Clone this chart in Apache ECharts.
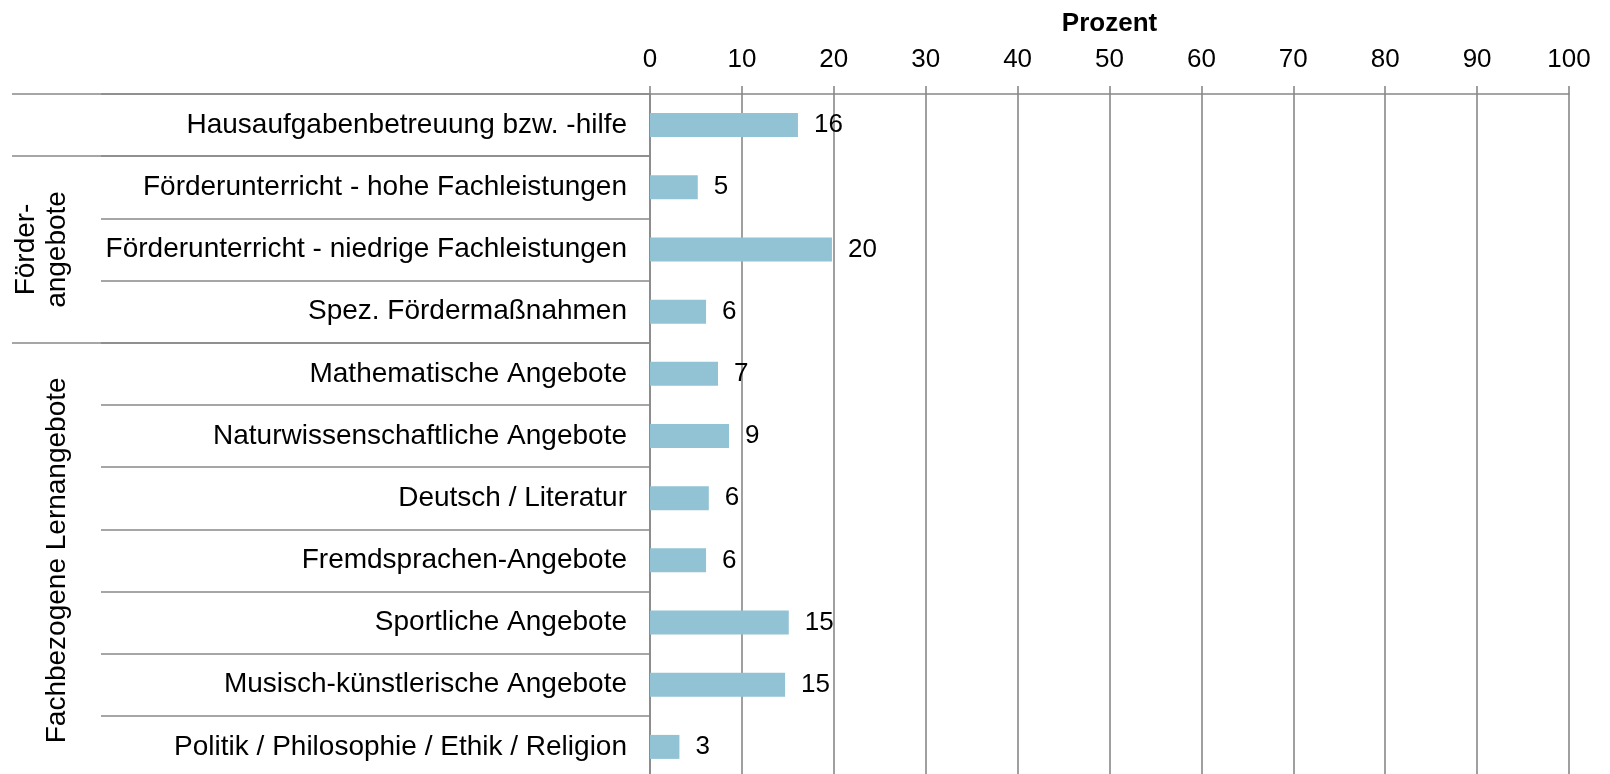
<!DOCTYPE html>
<html>
<head>
<meta charset="utf-8">
<script src="https://cdn.jsdelivr.net/npm/echarts@6/dist/echarts.min.js"></script>
<style>
html,body{margin:0;padding:0;background:#fff;}
#chart{width:1610px;height:774px;}
</style>
</head>
<body>
<div id="chart"></div>
<script>
// ---- data ----
const categories = [
  'Hausaufgabenbetreuung bzw. -hilfe',
  'Förderunterricht - hohe Fachleistungen',
  'Förderunterricht - niedrige Fachleistungen',
  'Spez. Fördermaßnahmen',
  'Mathematische Angebote',
  'Naturwissenschaftliche Angebote',
  'Deutsch / Literatur',
  'Fremdsprachen-Angebote',
  'Sportliche Angebote',
  'Musisch-künstlerische Angebote',
  'Politik / Philosophie / Ethik / Religion'
];
const values = [16.1, 5.2, 19.8, 6.1, 7.4, 8.6, 6.4, 6.1, 15.1, 14.7, 3.2];
const groupLabels = ['', 'Förder-\nangebote', 'Fachbezogene Lernangebote'];
const groupStart = [0, 1, 4];
const groupEnd = [0, 3, 10];
const axisName = 'Prozent';
const xMin = 0, xMax = 100, xStep = 10;

// ---- styles ----
const FONT = "'Liberation Sans', Arial, sans-serif";
const GRAY = '#888888';
const gridLeft = 650, gridRight = 41, gridTop = 94, gridHeight = 684;
const innerLineStart = 101, outerLineStart = 12;
const groupLabelX = [0, 41.5, 57];

const chart = echarts.init(document.getElementById('chart'), null, {renderer: 'canvas'});

chart.setOption({
  animation: false,
  backgroundColor: '#fff',
  grid: {left: gridLeft, right: gridRight, top: gridTop, height: gridHeight,
    containLabel: false, outerBoundsMode: 'none'},
  xAxis: {
    type: 'value', position: 'top', min: xMin, max: xMax, interval: xStep,
    name: axisName, nameLocation: 'middle', nameGap: 57,
    nameTextStyle: {fontFamily: FONT, fontSize: 26, fontWeight: 'bold', color: '#000'},
    axisLine: {show: true, lineStyle: {color: GRAY, width: 1.6}},
    axisTick: {show: true, length: 8, lineStyle: {color: GRAY, width: 1.6}},
    axisLabel: {fontFamily: FONT, fontSize: 26, color: '#000', margin: 21},
    splitLine: {show: true, lineStyle: {color: GRAY, width: 1.6}}
  },
  yAxis: [
    {
      type: 'category', data: categories, inverse: true,
      axisLine: {show: true, lineStyle: {color: GRAY, width: 1.6}},
      axisTick: {show: true, length: gridLeft - innerLineStart, interval: 0, lineStyle: {color: GRAY, width: 1.6}},
      axisLabel: {fontFamily: FONT, fontSize: 28, color: '#000', margin: 23, interval: 0},
      splitLine: {show: false}
    },
    {
      type: 'category', data: categories, inverse: true, position: 'left',
      axisLine: {show: false},
      axisTick: {show: true, length: gridLeft - outerLineStart,
        interval: function (idx) { return groupStart.indexOf(idx) >= 0; },
        lineStyle: {color: GRAY, width: 1.6}},
      axisLabel: {show: false},
      splitLine: {show: false}
    }
  ],
  series: [{
    type: 'bar', data: values, yAxisIndex: 0, barWidth: 24,
    itemStyle: {color: '#92c3d4'},
    label: {show: true, position: 'right', distance: 16, fontFamily: FONT, fontSize: 26, color: '#000',
      formatter: function (p) { return String(Math.round(p.value)); }}
  }]
});

// group labels, centred over their rows via the category scale
const graphics = [];
groupLabels.forEach(function (txt, i) {
  if (!txt) return;
  const y0 = chart.convertToPixel({yAxisIndex: 0}, groupStart[i]);
  const y1 = chart.convertToPixel({yAxisIndex: 0}, groupEnd[i]);
  graphics.push({
    type: 'text', x: groupLabelX[i], y: (y0 + y1) / 2, rotation: Math.PI / 2,
    style: {text: txt, fontFamily: FONT, fontSize: 28, lineHeight: 31, fill: '#000',
      textAlign: 'center', textVerticalAlign: 'middle'}
  });
});
chart.setOption({graphic: graphics});
</script>
</body>
</html>
